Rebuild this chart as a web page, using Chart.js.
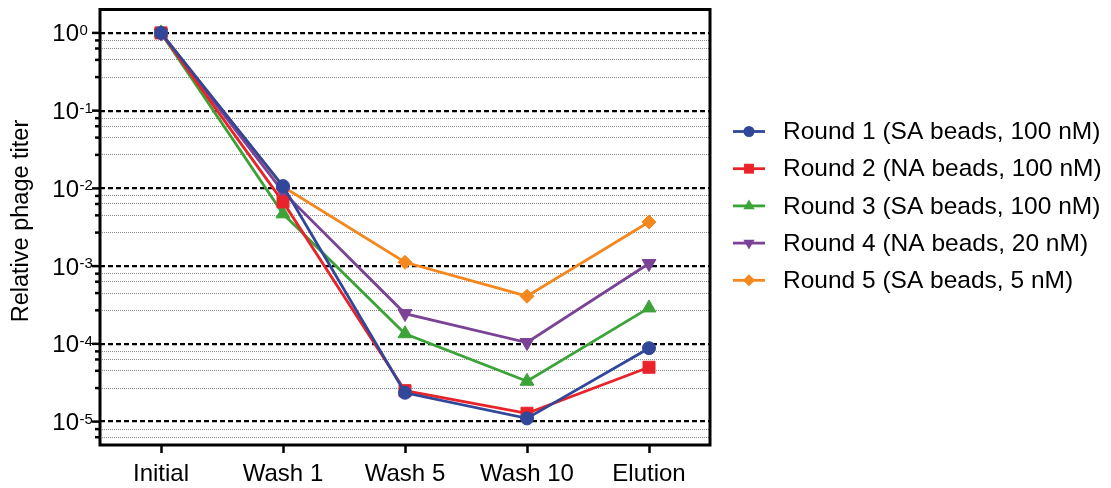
<!DOCTYPE html>
<html><head><meta charset="utf-8">
<script src="https://cdn.jsdelivr.net/npm/chart.js@4.4.1/dist/chart.umd.min.js"></script>
<style>html,body{margin:0;padding:0;background:#fff;}#wrap{width:1111px;height:488px;position:relative}</style>
</head><body><div id="wrap"><canvas id="c" width="1111" height="488"></canvas></div>
<script>
// ---- data ----
const categories = ['Initial', 'Wash 1', 'Wash 5', 'Wash 10', 'Elution'];
const seriesNames = [
  'Round 1 (SA beads, 100 nM)',
  'Round 2 (NA beads, 100 nM)',
  'Round 3 (SA beads, 100 nM)',
  'Round 4 (NA beads, 20 nM)',
  'Round 5 (SA beads, 5 nM)'
];
const round1 = [1, 0.0107, 2.35e-5, 1.1e-5, 8.8e-5];
const round2 = [1, 0.0067, 2.5e-5, 1.28e-5, 5.0e-5];
const round3 = [1, 0.0047, 1.35e-4, 3.3e-5, 2.9e-4];
const round4 = [1, 0.0090, 2.45e-4, 1.04e-4, 1.08e-3];
const round5 = [1, 0.0105, 1.12e-3, 4.1e-4, 3.7e-3];
const yMajorTicks = [1, 1e-1, 1e-2, 1e-3, 1e-4, 1e-5];
const yMajorExponents = ['0', '-1', '-2', '-3', '-4', '-5'];
const yMinorFactors = [0.8, 0.63, 0.45, 0.27];
const yMin = 5e-6, yMax = 2;
const yTitle = 'Relative phage titer';

// ---- styles ----
const FONT = '"Liberation Sans", Arial, Helvetica, sans-serif';
const colors = ['#30479a', '#e8242a', '#3ba338', '#7b4396', '#f5871f'];
const styles = [
  {pointStyle: 'circle', pointRadius: 6.5, pointRotation: 0, legendR: 5.5},
  {pointStyle: 'rect', pointRadius: 8.5, pointRotation: 0, legendR: 7},
  {pointStyle: 'triangle', pointRadius: 8, pointRotation: 0, legendR: 6.5},
  {pointStyle: 'triangle', pointRadius: 8, pointRotation: 180, legendR: 6.5},
  {pointStyle: 'rectRot', pointRadius: 7, pointRotation: 0, legendR: 6}
];
const seriesData = [round1, round2, round3, round4, round5];

const yTickValues = [];
yMajorTicks.forEach(m => {
  yTickValues.push(m);
  yMinorFactors.forEach(f => { const v = m * f; if (v >= yMin) yTickValues.push(v); });
});
const isMajor = v => Math.abs(Math.log10(v) - Math.round(Math.log10(v))) < 1e-6;

const datasets = seriesData.map((d, i) => ({
  label: seriesNames[i],
  data: d,
  borderColor: colors[i],
  backgroundColor: colors[i],
  pointBackgroundColor: colors[i],
  pointBorderColor: colors[i],
  pointBorderWidth: 1,
  borderWidth: 2.8,
  tension: 0,
  pointStyle: styles[i].pointStyle,
  pointRadius: styles[i].pointRadius,
  pointHoverRadius: styles[i].pointRadius,
  pointRotation: styles[i].pointRotation
}));

const decor = {
  id: 'decor',
  afterDraw(chart) {
    const ctx = chart.ctx;
    const a = chart.chartArea;
    const ys = chart.scales.y;
    ctx.save();
    // frame
    ctx.strokeStyle = '#000';
    ctx.lineWidth = 3;
    ctx.setLineDash([]);
    ctx.strokeRect(a.left, a.top, a.right - a.left, a.bottom - a.top);
    // y ticks
    ctx.lineWidth = 2.5;
    yTickValues.forEach(v => {
      const py = ys.getPixelForValue(v);
      const len = isMajor(v) ? 8 : 5;
      ctx.beginPath();
      ctx.moveTo(a.left - len, py);
      ctx.lineTo(a.left, py);
      ctx.stroke();
    });
    // y tick labels
    ctx.fillStyle = '#000';
    yMajorTicks.forEach((v, i) => {
      const py = ys.getPixelForValue(v);
      ctx.font = '24px ' + FONT;
      ctx.textAlign = 'right';
      ctx.textBaseline = 'alphabetic';
      ctx.fillText('10', 79, py + 8.5);
      ctx.font = '15px ' + FONT;
      ctx.textAlign = 'left';
      ctx.fillText(yMajorExponents[i], 79.5, py + 2);
    });
    // y title
    ctx.save();
    ctx.translate(28, 221);
    ctx.rotate(-Math.PI / 2);
    ctx.font = '23.5px ' + FONT;
    ctx.textAlign = 'center';
    ctx.textBaseline = 'alphabetic';
    ctx.fillText(yTitle, 0, 0);
    ctx.restore();
    // legend
    chart.data.datasets.forEach((ds, i) => {
      const y = 131.5 + i * 37.2;
      ctx.strokeStyle = ds.borderColor;
      ctx.lineWidth = 2.8;
      ctx.beginPath();
      ctx.moveTo(733, y);
      ctx.lineTo(765, y);
      ctx.stroke();
      ctx.fillStyle = ds.borderColor;
      Chart.helpers.drawPoint(ctx, {
        pointStyle: styles[i].pointStyle,
        rotation: styles[i].pointRotation,
        radius: styles[i].legendR,
        borderWidth: 0
      }, 749, y);
      ctx.fillStyle = '#000';
      ctx.font = '24.5px ' + FONT;
      ctx.textAlign = 'left';
      ctx.textBaseline = 'middle';
      ctx.fillText(ds.label, 783, y + 1);
    });
    ctx.restore();
  }
};

new Chart(document.getElementById('c').getContext('2d'), {
  type: 'line',
  data: {labels: categories, datasets: datasets},
  options: {
    responsive: false,
    animation: false,
    devicePixelRatio: 1,
    layout: {padding: {left: 0, top: 9, right: 401, bottom: 0}},
    plugins: {legend: {display: false}, tooltip: {enabled: false}},
    scales: {
      x: {
        type: 'category',
        offset: true,
        grid: {display: true, drawOnChartArea: false, drawTicks: true, tickLength: 8, tickWidth: 2.5, tickColor: '#000'},
        border: {display: false},
        ticks: {color: '#000', font: {family: FONT, size: 24}, padding: 7, maxRotation: 0, autoSkip: false},
        afterFit(s) { s.height = 43; }
      },
      y: {
        type: 'logarithmic',
        min: yMin,
        max: yMax,
        afterBuildTicks(s) { s.ticks = yTickValues.map(v => ({value: v})); },
        ticks: {display: false},
        grid: {
          drawTicks: false,
          color: c => (c.tick && isMajor(c.tick.value)) ? '#000' : '#8c8c8c',
          lineWidth: c => (c.tick && isMajor(c.tick.value)) ? 2.2 : 1
        },
        border: {
          display: false,
          dash: c => c.tick ? (isMajor(c.tick.value) ? [5, 3] : [1, 1]) : []
        },
        afterFit(s) { s.width = 100; }
      }
    }
  },
  plugins: [decor]
});
</script>
</body></html>
